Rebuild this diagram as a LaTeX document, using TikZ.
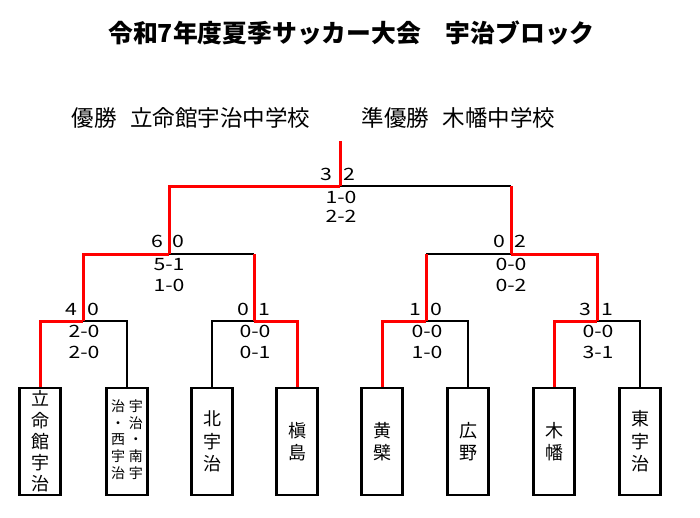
\documentclass[tikz,border=0pt]{standalone}
\usepackage{fontspec}
\setmainfont{Noto Sans CJK JP}
\newfontfamily\digitfont[FakeStretch=1.25]{Noto Sans CJK JP}
\begin{document}
\begin{tikzpicture}[x=1pt,y=-1pt,
  redl/.style={draw=red,line width=3pt},
  blkl/.style={draw=black,line width=2pt},
  teambox/.style={draw=black,line width=2.4pt,minimum width=41pt,minimum height=107pt,inner sep=0pt,align=center,font=\fontsize{18}{22.5}\selectfont},
  scl/.style={inner sep=0pt,font=\digitfont\fontsize{17}{20}\selectfont}]
\path[fill=white] (0,0) rectangle (700,517);
% titles
\node[font=\bfseries\fontsize{24.8}{30}\selectfont] (title) at (351.5,33) {令和7年度夏季サッカー大会　宇治ブロック};
\node[font=\fontsize{22.5}{27}\selectfont] (win) at (191,118) {優勝\hspace{0.6em}立命館宇治中学校};
\node[font=\fontsize{22.5}{27}\selectfont] (run) at (458.5,118) {準優勝\hspace{0.6em}木幡中学校};
% team boxes
\node[teambox,font=\fontsize{18}{21.25}\selectfont] (t1) at (40,441.5) {立\\命\\館\\宇\\治};
\node[teambox] (t2) at (127,441.5) {\fontsize{14}{16.5}\selectfont\begin{tabular}{@{}c@{\hspace{4pt}}c@{}}治&宇\\・&治\\西&・\\宇&南\\治&宇\end{tabular}};
\node[teambox] (t3) at (212,441.5) {北\\宇\\治};
\node[teambox] (t4) at (297,441.5) {槇\\島};
\node[teambox] (t5) at (382,441.5) {黄\\檗};
\node[teambox] (t6) at (468,441.5) {広\\野};
\node[teambox] (t7) at (554,441.5) {木\\幡};
\node[teambox] (t8) at (640,441.5) {東\\宇\\治};
% junctions
\coordinate (q1) at (83,321);
\coordinate (q2) at (254,321);
\coordinate (q3) at (426,321);
\coordinate (q4) at (597,321);
\coordinate (s1) at (169,254);
\coordinate (s2) at (511,254);
\coordinate (f) at (340,186);
\coordinate (top) at (340,141);
% quarter finals
\draw[blkl] (q1) -| (t2.north);
\draw[redl] (t1.north) |- (q1);
\draw[blkl] (t3.north) |- (q2);
\draw[redl] (t4.north) |- (q2);
\draw[blkl] (q3) -| (t6.north);
\draw[redl] (t5.north) |- (q3);
\draw[blkl] (q4) -| (t8.north);
\draw[redl] (t7.north) |- (q4);
% semi finals
\draw[blkl] (s1) -- (q2 |- s1);
\draw[redl] (q2) -- (q2 |- s1);
\draw[redl] (q1) |- (s1);
\draw[blkl] (q3 |- s2) -- (s2);
\draw[redl] (q3) -- (q3 |- s2);
\draw[redl] (q4) |- (s2);
% final
\draw[blkl] (f) -- (s2 |- f);
\draw[redl] (s2) -- (s2 |- f);
\draw[redl] (s1) |- (f);
\draw[redl] (top) -- (f);
% scores final
\node[scl,anchor=east] (fl) at (332,174) {3};
\node[scl,anchor=west] (fr) at (343,174) {2};
\node[scl] (fa) at (341,197.5) {1-0};
\node[scl] (fb) at (341,216.5) {2-2};
% semi left
\node[scl,anchor=east] (s1l) at (163,241) {6};
\node[scl,anchor=west] (s1r) at (172,241) {0};
\node[scl] (s1a) at (169,264.5) {5-1};
\node[scl] (s1b) at (169,285) {1-0};
% semi right
\node[scl,anchor=east] (s2l) at (505,241) {0};
\node[scl,anchor=west] (s2r) at (514,241) {2};
\node[scl] (s2a) at (511,264.5) {0-0};
\node[scl] (s2b) at (511,285) {0-2};
% quarter 1
\node[scl,anchor=east] (q1l) at (77,309.5) {4};
\node[scl,anchor=west] (q1r) at (87,309.5) {0};
\node[scl] (q1a) at (84,331.5) {2-0};
\node[scl] (q1b) at (84,352.5) {2-0};
% quarter 2
\node[scl,anchor=east] (q2l) at (249,309.5) {0};
\node[scl,anchor=west] (q2r) at (258,309.5) {1};
\node[scl] (q2a) at (255,331.5) {0-0};
\node[scl] (q2b) at (255,352.5) {0-1};
% quarter 3
\node[scl,anchor=east] (q3l) at (421,309.5) {1};
\node[scl,anchor=west] (q3r) at (430,309.5) {0};
\node[scl] (q3a) at (427,331.5) {0-0};
\node[scl] (q3b) at (427,352.5) {1-0};
% quarter 4
\node[scl,anchor=east] (q4l) at (591,309.5) {3};
\node[scl,anchor=west] (q4r) at (601,309.5) {1};
\node[scl] (q4a) at (598,331.5) {0-0};
\node[scl] (q4b) at (598,352.5) {3-1};
\end{tikzpicture}
\end{document}
